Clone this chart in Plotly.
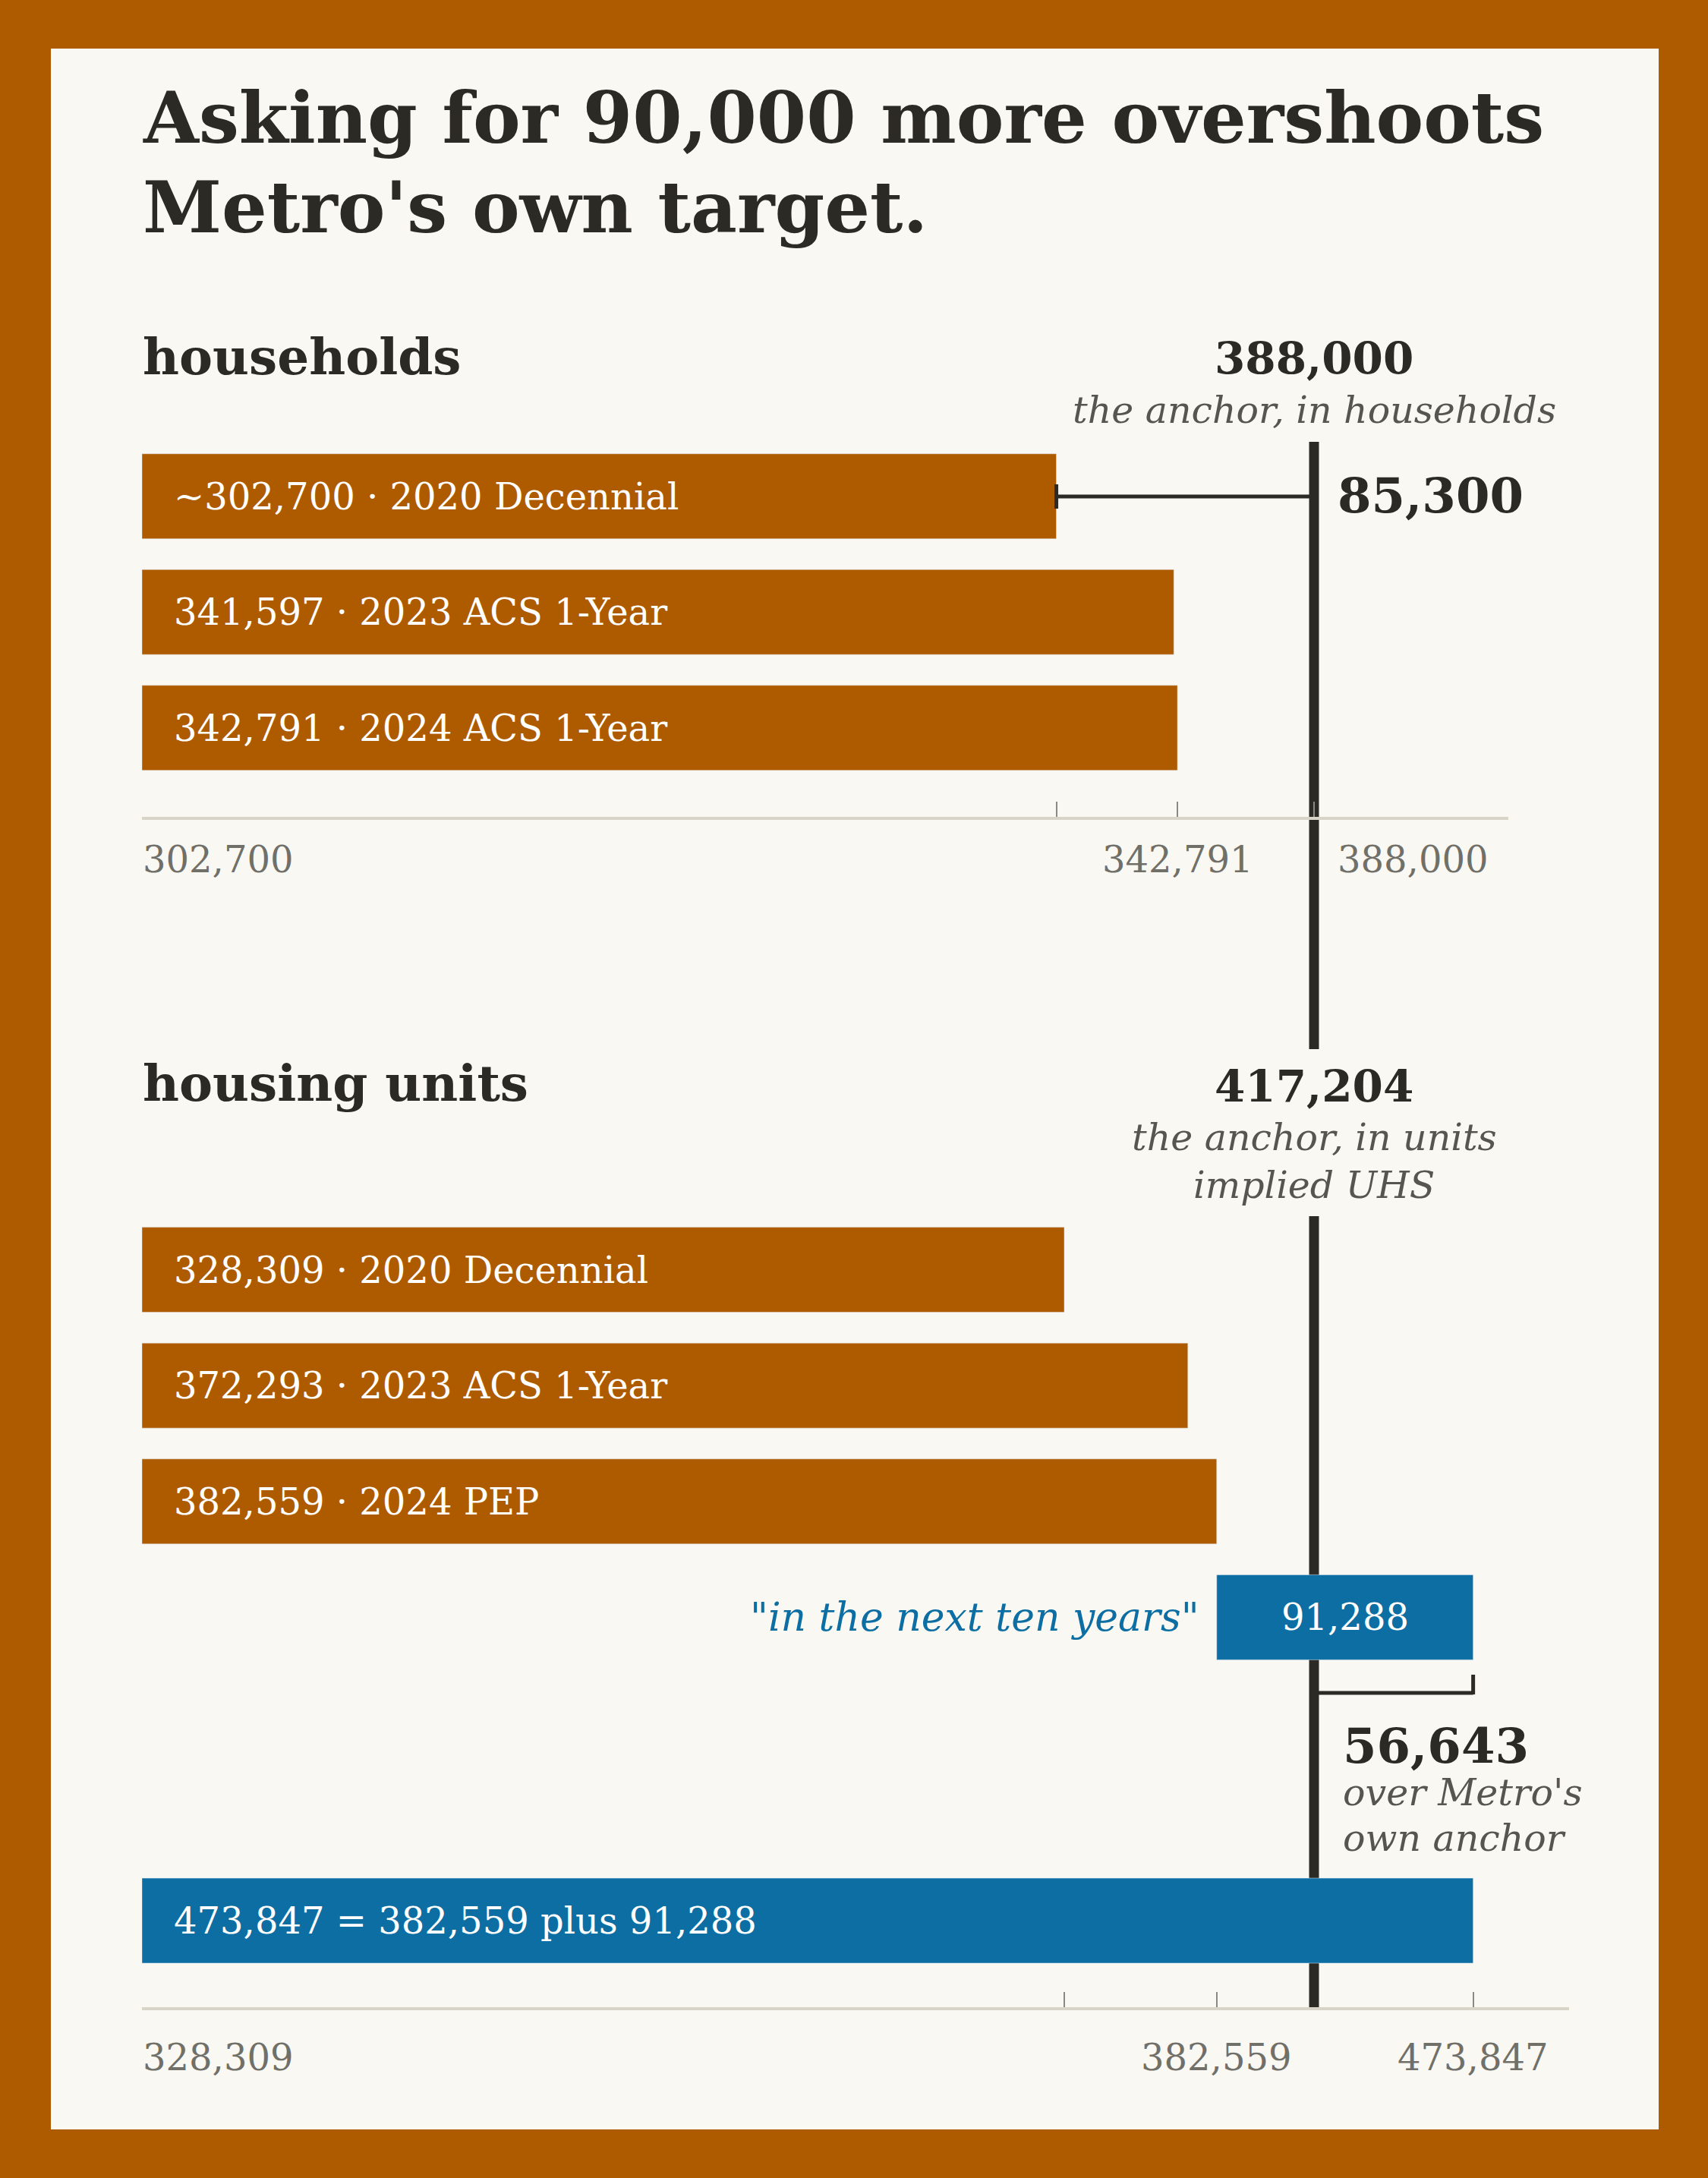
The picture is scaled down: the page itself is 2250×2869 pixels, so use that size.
import plotly.graph_objects as go

W, H = 2250, 2869

# households panel
hh_sources = ["2020 Decennial", "2023 ACS 1-Year", "2024 ACS 1-Year"]
hh_values = [302700, 341597, 342791]
hh_approx = [True, False, False]
hh_anchor = 388000

# housing units panel
unit_sources = ["2020 Decennial", "2023 ACS 1-Year", "2024 PEP"]
unit_values = [328309, 372293, 382559]
unit_anchor = 417204
ask_value = 91288
ask_quote = '"in the next ten years"'

total_value = unit_values[-1] + ask_value
over_value = total_value - unit_anchor
hh_gap = hh_anchor - hh_values[0]
hh_ticks = [hh_values[0], hh_values[-1], hh_anchor]
unit_ticks = [unit_values[0], unit_values[-1], total_value]

ORANGE = "#ae5b00"
BLUE = "#0c6ea2"
CREAM = "#faf8f3"
DARK = "#2c2a25"
GREY = "#57554f"
AXIS_TXT = "#706f68"
FONT = "DejaVu Serif"

# pixel layout
X0, XA = 187, 1731          # zero and anchor positions
HH_END, U_END = 1987, 2067  # right end of the axis lines


def fx(px):
    return px / W


def fy(py):
    return 1 - py / H


def note(text, x, y, xref="paper", yref="paper", size=48, color=DARK,
         weight="normal", style="normal", xanchor="left", xshift=0):
    return dict(text=text, x=x, y=y, xref=xref, yref=yref, showarrow=False,
                xanchor=xanchor, yanchor="middle", xshift=xshift, borderpad=0,
                font=dict(family=FONT, size=size, color=color, weight=weight, style=style))


fig = go.Figure()

fig.add_trace(go.Bar(
    x=hh_values, y=hh_sources, orientation="h", marker_color=ORANGE,
    xaxis="x", yaxis="y", hoverinfo="skip"))
fig.add_trace(go.Bar(
    x=unit_values, y=unit_sources, orientation="h", marker_color=ORANGE,
    xaxis="x2", yaxis="y2", hoverinfo="skip"))
fig.add_trace(go.Bar(
    x=[ask_value], base=[unit_values[-1]], y=["ask"], orientation="h",
    marker_color=BLUE, xaxis="x2", yaxis="y2", hoverinfo="skip"))
fig.add_trace(go.Bar(
    x=[total_value], y=["total"], orientation="h", marker_color=BLUE,
    xaxis="x2", yaxis="y3", hoverinfo="skip"))

ann = []
ann.append(note("Asking for 90,000 more overshoots", fx(187), fy(155), size=94, weight="bold"))
ann.append(note("Metro's own target.", fx(187), fy(273), size=94, weight="bold"))
ann.append(note("households", fx(187), fy(470), size=66, weight="bold"))
ann.append(note("housing units", fx(187), fy(1427), size=66, weight="bold"))

# households labels
for src, v, approx in zip(hh_sources, hh_values, hh_approx):
    txt = ("~" if approx else "") + f"{v:,} · {src}"
    ann.append(note(txt, 0, src, xref="x", yref="y", size=48, color="white", xshift=41))
ann.append(note(f"{hh_anchor:,}", hh_anchor, fy(472), xref="x", size=58, weight="bold", xanchor="center"))
ann.append(note("the anchor, in households", hh_anchor, fy(540), xref="x", size=49,
                color=GREY, style="italic", xanchor="center"))
ann.append(note(f"{hh_gap:,}", hh_anchor, fy(652), xref="x", size=64, weight="bold", xshift=30))
ann.append(note(f"{hh_ticks[0]:,}", 0, fy(1132), xref="x", size=48, color=AXIS_TXT))
ann.append(note(f"{hh_ticks[1]:,}", hh_ticks[1], fy(1132), xref="x", size=48, color=AXIS_TXT, xanchor="center"))
ann.append(note(f"{hh_ticks[2]:,}", hh_ticks[2], fy(1132), xref="x", size=48, color=AXIS_TXT, xshift=30))

# housing unit labels
for src, v in zip(unit_sources, unit_values):
    ann.append(note(f"{v:,} · {src}", 0, src, xref="x2", yref="y2", size=48, color="white", xshift=41))
ann.append(note(f"{unit_anchor:,}", unit_anchor, fy(1431), xref="x2", size=58, weight="bold", xanchor="center"))
ann.append(note("the anchor, in units", unit_anchor, fy(1498), xref="x2", size=49,
                color=GREY, style="italic", xanchor="center"))
ann.append(note("implied UHS", unit_anchor, fy(1561), xref="x2", size=49,
                color=GREY, style="italic", xanchor="center"))
ann.append(note(ask_quote, unit_values[-1], "ask", xref="x2", yref="y2", size=52,
                color=BLUE, style="italic", xanchor="right", xshift=-22))
ann.append(note(f"{ask_value:,}", unit_values[-1] + ask_value / 2, "ask", xref="x2", yref="y2",
                size=48, color="white", xanchor="center"))
ann.append(note(f"{over_value:,}", unit_anchor, fy(2299), xref="x2", size=64, weight="bold", xshift=37))
ann.append(note("over Metro's", unit_anchor, fy(2361), xref="x2", size=49, color=GREY,
                style="italic", xshift=37))
ann.append(note("own anchor", unit_anchor, fy(2421), xref="x2", size=49, color=GREY,
                style="italic", xshift=37))
ann.append(note(f"{total_value:,} = {unit_values[-1]:,} plus {ask_value:,}", 0, "total",
                xref="x2", yref="y3", size=48, color="white", xshift=41))
ann.append(note(f"{unit_ticks[0]:,}", 0, fy(2710), xref="x2", size=48, color=AXIS_TXT))
ann.append(note(f"{unit_ticks[1]:,}", unit_ticks[1], fy(2710), xref="x2", size=48, color=AXIS_TXT, xanchor="center"))
ann.append(note(f"{unit_ticks[2]:,}", unit_ticks[2], fy(2710), xref="x2", size=48, color=AXIS_TXT, xanchor="center"))

shapes = [
    dict(type="rect", xref="paper", yref="paper", x0=fx(67), x1=fx(2185), y0=fy(64), y1=fy(2805),
         fillcolor=CREAM, line_width=0, layer="below"),
    # anchor line
    dict(type="line", xref="x", yref="paper", x0=hh_anchor, x1=hh_anchor, y0=fy(582), y1=fy(1382),
         line=dict(color=DARK, width=13), layer="below"),
    dict(type="line", xref="x2", yref="paper", x0=unit_anchor, x1=unit_anchor, y0=fy(1602), y1=fy(2645),
         line=dict(color=DARK, width=13), layer="below"),
    # households gap bracket
    dict(type="line", xref="x", yref="paper", x0=hh_values[0], x1=hh_anchor, y0=fy(654), y1=fy(654),
         line=dict(color=DARK, width=5), layer="above"),
    dict(type="line", xref="x", yref="paper", x0=hh_values[0], x1=hh_values[0], y0=fy(638), y1=fy(670),
         line=dict(color=DARK, width=5), layer="above"),
    # overshoot bracket
    dict(type="line", xref="x2", yref="paper", x0=unit_anchor, x1=total_value, y0=fy(2230), y1=fy(2230),
         line=dict(color=DARK, width=5), layer="above"),
    dict(type="line", xref="x2", yref="paper", x0=total_value, x1=total_value, y0=fy(2206), y1=fy(2232),
         line=dict(color=DARK, width=5), layer="above"),
]

axis_common = dict(showgrid=False, zeroline=False, showticklabels=False, fixedrange=True,
                   showline=True, linecolor="#d9d4c8", linewidth=4, ticks="inside",
                   ticklen=20, tickwidth=2, tickcolor="#8b8a82", anchor="free")
ycommon = dict(type="category", visible=False, fixedrange=True)

fig.update_layout(
    width=W, height=H,
    margin=dict(l=0, r=0, t=0, b=0),
    paper_bgcolor=ORANGE, plot_bgcolor="rgba(0,0,0,0)",
    showlegend=False, barmode="overlay", bargap=0.266,
    xaxis=dict(domain=[fx(X0), fx(HH_END)], range=[0, hh_anchor * (HH_END - X0) / (XA - X0)],
               position=fy(1078), tickvals=hh_ticks, **axis_common),
    yaxis=dict(domain=[fy(1035), fy(577.5)], categoryarray=hh_sources,
               range=[len(hh_sources) - 0.5, -0.5], anchor="x", **ycommon),
    xaxis2=dict(domain=[fx(X0), fx(U_END)], range=[0, unit_anchor * (U_END - X0) / (XA - X0)],
                position=fy(2645.7), tickvals=unit_ticks, **axis_common),
    yaxis2=dict(domain=[fy(2206.7), fy(1596.3)], categoryarray=unit_sources + ["ask"],
                range=[len(unit_sources) + 0.5, -0.5], anchor="x2", **ycommon),
    yaxis3=dict(domain=[fy(2606.3), fy(2453.7)], categoryarray=["total"],
                range=[0.5, -0.5], anchor="x2", **ycommon),
    annotations=ann,
    shapes=shapes,
)

# drop the browser's default page margin so the figure sits flush with the window
fig.write_html("out.html", config={"displayModeBar": False},
               post_script="document.body.style.margin='0';")
